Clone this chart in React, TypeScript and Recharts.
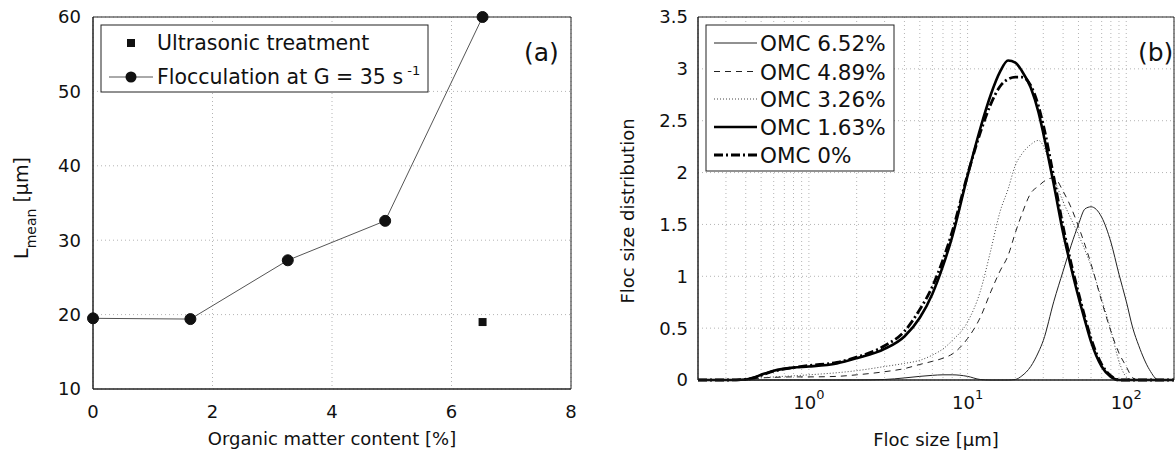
import React from "react";
import {
  ComposedChart,
  LineChart,
  Line,
  Scatter,
  XAxis,
  YAxis,
  CartesianGrid,
  ReferenceArea,
  Label,
} from "recharts";

const FONT = '"DejaVu Sans", "Liberation Sans", Arial, sans-serif';
const INK = "#111";
const GRID = "#b4b4b4";

// (a) mean floc size against organic matter content
const omcPercent = [0, 1.63, 3.26, 4.89, 6.52];
const lMeanFlocculation = [19.5, 19.4, 27.3, 32.6, 60];
const omcUltrasonic = [6.52];
const lMeanUltrasonic = [19];
const omcTicks = [0, 2, 4, 6, 8];
const lMeanTicks = [10, 20, 30, 40, 50, 60];

// (b) floc size distributions, one list per organic matter content
const flocSize = [
  0.2, 0.3, 0.4, 0.45, 0.5, 0.6, 0.8, 1, 1.5, 2,
  3, 4, 5, 6, 7, 8, 10, 12, 14, 16,
  18, 20, 22, 25, 28, 30, 35, 40, 45, 50,
  55, 60, 70, 80, 90, 100, 110, 120, 140, 160,
  200,
];
const fsd652 = [
  0, 0, 0, 0, 0, 0, 0, 0, 0, 0,
  0.005, 0.02, 0.035, 0.045, 0.05, 0.05, 0.035, 0.005, 0, 0,
  0, 0.005, 0.04, 0.13, 0.27, 0.38, 0.76, 1.05, 1.3, 1.5,
  1.65, 1.67, 1.57, 1.33, 1.02, 0.76, 0.5, 0.33, 0.1, 0,
  0,
];
const fsd489 = [
  0, 0, 0, 0.01, 0.02, 0.025, 0.03, 0.03, 0.035, 0.05,
  0.08, 0.11, 0.15, 0.18, 0.21, 0.25, 0.4, 0.6, 0.85, 1.05,
  1.2, 1.42, 1.6, 1.8, 1.87, 1.91, 1.95, 1.82, 1.66, 1.48,
  1.3, 1.12, 0.76, 0.47, 0.26, 0.13, 0.02, 0, 0, 0,
  0,
];
const fsd326 = [
  0, 0, 0, 0.01, 0.02, 0.03, 0.04, 0.05, 0.07, 0.09,
  0.13, 0.16, 0.19, 0.24, 0.3, 0.38, 0.56, 0.85, 1.25, 1.62,
  1.84, 2.07, 2.18, 2.27, 2.31, 2.26, 1.95, 1.72, 1.55, 1.4,
  1.25, 1.1, 0.78, 0.48, 0.18, 0.03, 0, 0, 0, 0,
  0,
];
const fsd163 = [
  0, 0, 0.005, 0.025, 0.05, 0.09, 0.12, 0.13, 0.16, 0.21,
  0.3, 0.42, 0.6, 0.83, 1.1, 1.38, 1.97, 2.42, 2.75, 2.97,
  3.08, 3.06, 2.98, 2.82, 2.58, 2.38, 1.88, 1.42, 1.08, 0.8,
  0.57, 0.37, 0.13, 0.03, 0, 0, 0, 0, 0, 0,
  0,
];
const fsd0 = [
  0, 0, 0.005, 0.02, 0.045, 0.085, 0.12, 0.14, 0.17, 0.22,
  0.33, 0.47, 0.68, 0.9, 1.16, 1.43, 1.98, 2.38, 2.66, 2.83,
  2.9, 2.92, 2.92, 2.84, 2.64, 2.46, 1.95, 1.48, 1.12, 0.84,
  0.6, 0.4, 0.15, 0.04, 0, 0, 0, 0, 0, 0,
  0,
];
const fsdTicks = [0, 0.5, 1, 1.5, 2, 2.5, 3, 3.5];
const sizeTicks = [
  0.2, 0.3, 0.4, 0.5, 0.6, 0.7, 0.8, 0.9,
  1, 2, 3, 4, 5, 6, 7, 8, 9,
  10, 20, 30, 40, 50, 60, 70, 80, 90,
  100, 200,
];
const decadeTicks = [1, 10, 100];

const flocData = omcPercent.map((x, i) => ({ x, y: lMeanFlocculation[i] }));
const ultraData = omcUltrasonic.map((x, i) => ({ x, y: lMeanUltrasonic[i] }));

const series = [
  { key: "omc652", name: "OMC 6.52%", values: fsd652, color: "#222", width: 1, dash: undefined },
  { key: "omc489", name: "OMC 4.89%", values: fsd489, color: "#222", width: 1, dash: "6 5" },
  { key: "omc326", name: "OMC 3.26%", values: fsd326, color: "#444", width: 1, dash: "1 2" },
  { key: "omc163", name: "OMC 1.63%", values: fsd163, color: "#000", width: 2.6, dash: undefined },
  { key: "omc0", name: "OMC 0%", values: fsd0, color: "#000", width: 2.8, dash: "9 3 2 3" },
];

const distData = flocSize.map((size, i) => {
  const row: Record<string, number> = { size };
  series.forEach((s) => (row[s.key] = s.values[i]));
  return row;
});

const tickStyle = { fontSize: 18, fontFamily: FONT, fill: INK };

const PowerTick = ({ x, y, payload }: any) => {
  const v = payload.value;
  if (!decadeTicks.includes(v)) return <g />;
  const exp = Math.round(Math.log10(v));
  return (
    <text x={x} y={y + 29} textAnchor="middle" fontSize={18} fontFamily={FONT} fill={INK}>
      10
      <tspan dy={-10} fontSize={13}>
        {exp}
      </tspan>
    </text>
  );
};

const PanelA = () => (
  <ComposedChart width={590} height={455} margin={{ top: 17, right: 19, bottom: 16, left: 0 }}>
    <CartesianGrid stroke={GRID} strokeDasharray="1 3" />
    <XAxis
      type="number"
      dataKey="x"
      domain={[0, 8]}
      ticks={omcTicks}
      height={50}
      stroke="#222"
      tickLine={false}
      tickSize={0}
      tickMargin={16}
      tick={tickStyle}
    >
      <Label
        content={({ viewBox }: any) => (
          <text
            x={viewBox.x + viewBox.width / 2}
            y={viewBox.y + 56}
            textAnchor="middle"
            fontSize={18}
            fontFamily={FONT}
            fill={INK}
          >
            Organic matter content [%]
          </text>
        )}
      />
    </XAxis>
    <YAxis
      type="number"
      dataKey="y"
      domain={[10, 60]}
      ticks={lMeanTicks}
      width={93}
      stroke="#222"
      tickLine={false}
      tickSize={0}
      tickMargin={12}
      tick={tickStyle}
    >
      <Label
        content={({ viewBox }: any) => {
          const cx = viewBox.x + 28;
          const cy = viewBox.y + viewBox.height / 2 + 5;
          return (
            <text
              x={cx}
              y={cy}
              transform={`rotate(-90 ${cx} ${cy})`}
              textAnchor="middle"
              fontSize={19}
              fontFamily={FONT}
              fill={INK}
            >
              L
              <tspan dy={8} fontSize={14}>
                mean
              </tspan>
              <tspan dy={-8}> [µm]</tspan>
            </text>
          );
        }}
      />
    </YAxis>
    <ReferenceArea x1={0} x2={8} y1={10} y2={60} fill="none" stroke="#222" strokeWidth={1} />
    <Line
      data={flocData}
      dataKey="y"
      type="linear"
      stroke="#555"
      strokeWidth={1}
      dot={{ r: 5.5, fill: "#111", stroke: "#111", strokeWidth: 1 }}
      isAnimationActive={false}
    />
    <Scatter data={ultraData} dataKey="y" shape="square" fill="#111" isAnimationActive={false} />
  </ComposedChart>
);

const PanelB = () => (
  <LineChart width={585} height={455} data={distData} margin={{ top: 17, right: 1, bottom: 25, left: 0 }}>
    <CartesianGrid stroke={GRID} strokeDasharray="1 3" />
    <XAxis
      type="number"
      dataKey="size"
      scale="log"
      domain={[0.2, 200]}
      allowDataOverflow
      ticks={sizeTicks}
      interval={0}
      height={50}
      stroke="#222"
      tickLine={false}
      tickSize={0}
      tickMargin={0}
      tick={<PowerTick />}
    >
      <Label
        content={({ viewBox }: any) => (
          <text
            x={viewBox.x + viewBox.width / 2}
            y={viewBox.y + 66}
            textAnchor="middle"
            fontSize={18}
            fontFamily={FONT}
            fill={INK}
          >
            Floc size [µm]
          </text>
        )}
      />
    </XAxis>
    <YAxis
      type="number"
      domain={[0, 3.5]}
      ticks={fsdTicks}
      width={108}
      stroke="#222"
      tickLine={false}
      tickSize={0}
      tickMargin={10}
      tick={tickStyle}
    >
      <Label
        content={({ viewBox }: any) => {
          const cx = viewBox.x + 44;
          const cy = 211;
          return (
            <text
              x={cx}
              y={cy}
              transform={`rotate(-90 ${cx} ${cy})`}
              textAnchor="middle"
              fontSize={18}
              fontFamily={FONT}
              fill={INK}
            >
              Floc size distribution
            </text>
          );
        }}
      />
    </YAxis>
    <ReferenceArea x1={0.2} x2={200} y1={0} y2={3.5} fill="none" stroke="#222" strokeWidth={1} />
    {series.map((s) => (
      <Line
        key={s.key}
        dataKey={s.key}
        name={s.name}
        type="monotone"
        stroke={s.color}
        strokeWidth={s.width}
        strokeDasharray={s.dash}
        dot={false}
        isAnimationActive={false}
      />
    ))}
  </LineChart>
);

const Legends = () => (
  <svg
    width={1175}
    height={455}
    style={{ position: "absolute", left: 0, top: 0, pointerEvents: "none" }}
    fontFamily={FONT}
    fill={INK}
  >
    {/* panel (a) legend */}
    <rect x={101} y={25} width={327} height={67} fill="#fff" stroke="#222" />
    <rect x={127} y={39} width={8} height={8} fill="#111" />
    <text x={157} y={50} fontSize={20.5}>
      Ultrasonic treatment
    </text>
    <line x1={109} x2={153} y1={77} y2={77} stroke="#555" />
    <circle cx={131} cy={77} r={5.5} fill="#111" />
    <text x={157} y={84} fontSize={20.5}>
      Flocculation at G = 35 s
      <tspan dy={-9} fontSize={13}>
        {" "}-1
      </tspan>
    </text>
    <text x={524} y={61} fontSize={25}>
      (a)
    </text>

    {/* panel (b) legend */}
    <rect x={706} y={25} width={188} height={146} fill="#fff" stroke="#222" />
    {series.map((s, i) => {
      const cy = [43, 71.5, 99, 127, 155][i];
      return (
        <g key={s.key}>
          <line
            x1={714}
            x2={757}
            y1={cy}
            y2={cy}
            stroke={s.color}
            strokeWidth={s.width}
            strokeDasharray={s.dash}
          />
          <text x={760} y={cy + 8} fontSize={21.5}>
            {s.name}
          </text>
        </g>
      );
    })}
    <text x={1138} y={61} fontSize={25}>
      (b)
    </text>
  </svg>
);

export default function App() {
  return (
    <div
      style={{
        position: "absolute",
        left: 0,
        top: 0,
        width: 1175,
        height: 455,
        overflow: "hidden",
        background: "#fff",
      }}
    >
      <div style={{ position: "absolute", left: 0, top: 0 }}>
        <PanelA />
      </div>
      <div style={{ position: "absolute", left: 590, top: 0 }}>
        <PanelB />
      </div>
      <Legends />
    </div>
  );
}
